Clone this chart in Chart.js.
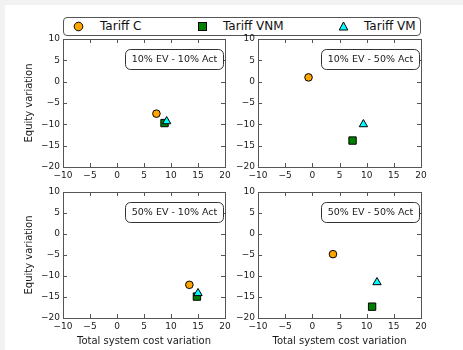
<!DOCTYPE html>
<html>
<head>
<meta charset="utf-8">
<script src="https://cdn.jsdelivr.net/npm/chart.js@4/dist/chart.umd.min.js"></script>
<style>
  html, body { margin: 0; padding: 0; width: 463px; height: 350px; overflow: hidden; background: #f2f2f2; font-family: "DejaVu Sans", sans-serif; }
  #sheet { position: absolute; left: 5px; top: 5px; width: 458px; height: 345px; background: #fff; }
  canvas.panel { position: absolute; }
  #legend { position: absolute; left: 63px; top: 17px; width: 356px; height: 17px; border: 1px solid #555; border-radius: 4px; background: #fff; }
  #legend .txt { position: absolute; top: 0; height: 17px; line-height: 17px; font-size: 12px; color: #111; white-space: nowrap; }
  #legend svg { position: absolute; top: 2px; }
</style>
</head>
<body>
<div id="sheet"></div>
<div id="legend"></div>
<canvas id="p0" class="panel"></canvas>
<canvas id="p1" class="panel"></canvas>
<canvas id="p2" class="panel"></canvas>
<canvas id="p3" class="panel"></canvas>
<script>
// Scenario labels, one per panel (top-left, top-right, bottom-left, bottom-right)
const scenarios = ['10% EV - 10% Act', '10% EV - 50% Act', '50% EV - 10% Act', '50% EV - 50% Act'];
const tariffNames = ['Tariff C', 'Tariff VNM', 'Tariff VM'];

// Total system cost variation per scenario
const costC   = [7.3, -0.7, 13.4, 3.8];
const costVNM = [8.8, 7.4, 14.8, 11.0];
const costVM  = [9.2, 9.4, 15.0, 11.9];

// Equity variation per scenario
const equityC   = [-7.5, 1.0, -12.1, -4.8];
const equityVNM = [-9.7, -13.8, -14.9, -17.3];
const equityVM  = [-9.3, -10.0, -14.1, -11.5];

// Axis tick values
const xTicks = [-10, -5, 0, 5, 10, 15, 20];
const yTicks = [-20, -15, -10, -5, 0, 5, 10];

const FONT = '"DejaVu Sans", sans-serif';
const INK = '#1a1a1a';
const FRAME = '#555555';

const styles = [
  { name: tariffNames[0], shape: 'circle',   color: '#FFA500', radius: 3.8, order: 3 },
  { name: tariffNames[1], shape: 'rect',     color: '#008000', radius: 5.2, order: 2 },
  { name: tariffNames[2], shape: 'triangle', color: '#00FFFF', radius: 4.8, order: 1 }
];

const minus = v => (v < 0 ? '\u2212' + Math.abs(v) : String(v));

// Panel geometry: canvas box plus the space reserved around the plot area
const layout = [
  { left: 0,   top: 29,  w: 240, h: 151, yW: 63, xH: 13, padTop: 10, padRight: 15, yTitle: true,  xTitle: false },
  { left: 228, top: 29,  w: 235, h: 151, yW: 30, xH: 13, padTop: 10, padRight: 42, yTitle: false, xTitle: false },
  { left: 0,   top: 180, w: 240, h: 168, yW: 63, xH: 30, padTop: 12, padRight: 15, yTitle: true,  xTitle: true },
  { left: 228, top: 180, w: 235, h: 168, yW: 30, xH: 30, padTop: 12, padRight: 42, yTitle: false, xTitle: true }
];

// Box frame with inward ticks on all four sides, plus the scenario label box
const framePlugin = {
  id: 'frameAndLabel',
  afterDraw(chart, args, opts) {
    const { ctx, chartArea: a, scales: { x, y } } = chart;
    ctx.save();
    ctx.strokeStyle = FRAME;
    ctx.lineWidth = 1;
    ctx.beginPath();
    xTicks.forEach(v => {
      if (v === x.min || v === x.max) return;
      const px = Math.round(x.getPixelForValue(v)) + 0.5;
      ctx.moveTo(px, a.bottom); ctx.lineTo(px, a.bottom - 4);
      ctx.moveTo(px, a.top);    ctx.lineTo(px, a.top + 4);
    });
    yTicks.forEach(v => {
      if (v === y.min || v === y.max) return;
      const py = Math.round(y.getPixelForValue(v)) + 0.5;
      ctx.moveTo(a.left, py);  ctx.lineTo(a.left + 4, py);
      ctx.moveTo(a.right, py); ctx.lineTo(a.right - 4, py);
    });
    ctx.stroke();
    ctx.strokeRect(Math.round(a.left) + 0.5, Math.round(a.top) + 0.5,
                   Math.round(a.right - a.left), Math.round(a.bottom - a.top));

    // scenario label in a rounded box, top-right corner
    ctx.font = '9.5px ' + FONT;
    const tw = ctx.measureText(opts.text).width;
    const bw = Math.round(tw + 12), bh = 20;
    const bx = Math.round(a.right - 2 - bw) + 0.5, by = Math.round(a.top + 10) + 0.5;
    ctx.beginPath();
    ctx.roundRect(bx, by, bw, bh, 5);
    ctx.fillStyle = '#fff';
    ctx.fill();
    ctx.strokeStyle = '#333';
    ctx.stroke();
    ctx.fillStyle = INK;
    ctx.textAlign = 'center';
    ctx.textBaseline = 'middle';
    ctx.fillText(opts.text, bx + bw / 2, by + bh / 2 + 0.5);
    ctx.restore();
  }
};

function panelData(i) {
  const xs = [costC, costVNM, costVM];
  const ys = [equityC, equityVNM, equityVM];
  return {
    datasets: styles.map((s, k) => ({
      label: s.name,
      data: [{ x: xs[k][i], y: ys[k][i] }],
      pointStyle: s.shape,
      pointRadius: s.radius,
      pointHoverRadius: s.radius,
      backgroundColor: s.color,
      borderColor: '#000',
      borderWidth: 1,
      order: s.order
    }))
  };
}

layout.forEach((g, i) => {
  const cv = document.getElementById('p' + i);
  cv.width = g.w; cv.height = g.h;
  cv.style.left = g.left + 'px'; cv.style.top = g.top + 'px';
  cv.style.width = g.w + 'px'; cv.style.height = g.h + 'px';

  new Chart(cv, {
    type: 'scatter',
    data: panelData(i),
    plugins: [framePlugin],
    options: {
      responsive: false,
      devicePixelRatio: 1,
      animation: false,
      layout: { padding: { top: g.padTop, right: g.padRight, left: 0, bottom: 0 } },
      plugins: {
        legend: { display: false },
        tooltip: { enabled: false },
        frameAndLabel: { text: scenarios[i] }
      },
      scales: {
        x: {
          type: 'linear', min: -10, max: 20,
          afterBuildTicks: s => { s.ticks = xTicks.map(v => ({ value: v })); },
          afterFit: s => { s.height = g.xH; },
          grid: { display: false, drawTicks: false },
          border: { display: false },
          ticks: { padding: 3, maxRotation: 0, autoSkip: false, color: INK, font: { family: FONT, size: 9 }, callback: minus },
          title: { display: g.xTitle, text: 'Total system cost variation', color: INK, font: { family: FONT, size: 10 }, padding: { top: 0, bottom: 1 } }
        },
        y: {
          type: 'linear', min: -20, max: 10,
          afterBuildTicks: s => { s.ticks = yTicks.map(v => ({ value: v })); },
          afterFit: s => { s.width = g.yW; },
          grid: { display: false, drawTicks: false },
          border: { display: false },
          ticks: { padding: 3, autoSkip: false, color: INK, font: { family: FONT, size: 9 }, callback: minus },
          title: { display: g.yTitle, text: 'Equity variation', color: INK, font: { family: FONT, size: 10 }, padding: { top: 23, bottom: 0 } }
        }
      }
    }
  });
});

// Shared legend across the top of the figure
const legendPos = [
  { marker: 14, text: 36 },
  { marker: 138, text: 159 },
  { marker: 279, text: 300 }
];
const legend = document.getElementById('legend');
const svgNS = 'http://www.w3.org/2000/svg';
styles.forEach((s, k) => {
  const svg = document.createElementNS(svgNS, 'svg');
  svg.setAttribute('width', '13'); svg.setAttribute('height', '13');
  svg.style.left = (legendPos[k].marker - 6.5) + 'px';
  let el;
  if (s.shape === 'circle') {
    el = document.createElementNS(svgNS, 'circle');
    el.setAttribute('cx', '6.5'); el.setAttribute('cy', '6.5'); el.setAttribute('r', '4.3');
  } else if (s.shape === 'rect') {
    el = document.createElementNS(svgNS, 'rect');
    el.setAttribute('x', '2.5'); el.setAttribute('y', '2.5'); el.setAttribute('width', '8'); el.setAttribute('height', '8');
  } else {
    el = document.createElementNS(svgNS, 'polygon');
    el.setAttribute('points', '6.5,2 10.8,10 2.2,10');
  }
  el.setAttribute('fill', s.color);
  el.setAttribute('stroke', '#000');
  el.setAttribute('stroke-width', '1');
  svg.appendChild(el);
  legend.appendChild(svg);
  const t = document.createElement('div');
  t.className = 'txt';
  t.style.left = legendPos[k].text + 'px';
  t.textContent = s.name;
  legend.appendChild(t);
});
</script>
</body>
</html>
